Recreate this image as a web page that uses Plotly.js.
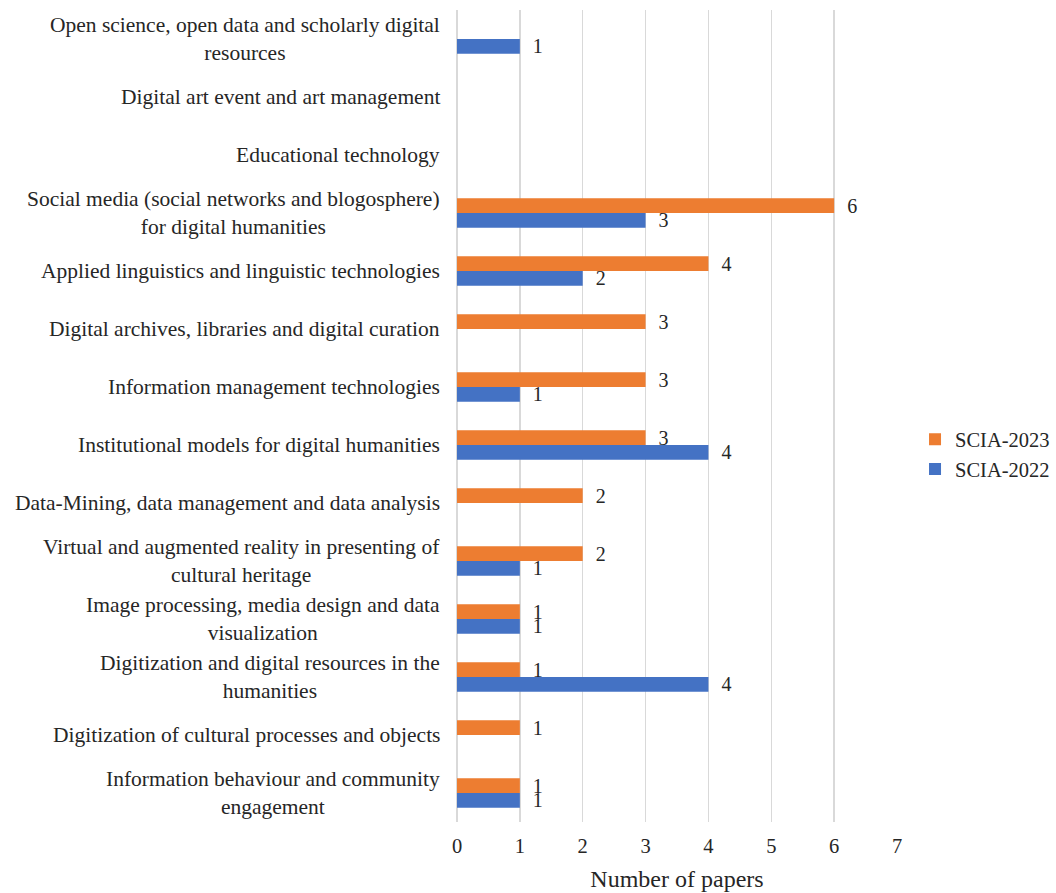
<!DOCTYPE html>
<html>
<head>
<meta charset="utf-8">
<script src="https://cdn.plot.ly/plotly-3.0.1.min.js"></script>
<style>html,body{margin:0;padding:0;background:#fff;}#chart{width:1056px;height:893px;}</style>
</head>
<body>
<div id="chart"></div>
<script>
// Categories listed bottom to top
var categories = [
  "Information behaviour and community<br>engagement",
  "Digitization of cultural processes and objects",
  "Digitization and digital resources in the<br>humanities",
  "Image processing, media design and data<br>visualization",
  "Virtual and augmented reality in presenting of<br>cultural heritage",
  "Data-Mining, data management and data analysis",
  "Institutional models for digital humanities",
  "Information management technologies",
  "Digital archives, libraries and digital curation",
  "Applied linguistics and linguistic technologies",
  "Social media (social networks and blogosphere)<br>for digital humanities",
  "Educational technology",
  "Digital art event and art management",
  "Open science, open data and scholarly digital<br>resources"
];
var scia2023 = [1, 1, 1, 1, 2, 2, 3, 3, 3, 4, 6, null, null, null];
var scia2022 = [1, null, 4, 1, 1, null, 4, 1, null, 2, 3, null, null, 1];
var xTicks = [0, 1, 2, 3, 4, 5, 6, 7];

var serif = "Liberation Serif";

var traces = [
  {
    type: "bar", orientation: "h", name: "SCIA-2022",
    y: categories, x: scia2022,
    marker: {color: "#4472C4"},
    text: scia2022.map(function(v){return v === null ? "" : "\u00a0\u00a0" + v;}),
    textposition: "outside", cliponaxis: false, constraintext: "none",
    textfont: {family: serif, size: 20, color: "#262626"},
    legendgroup: "a", hoverinfo: "x+y"
  },
  {
    type: "bar", orientation: "h", name: "SCIA-2023",
    y: categories, x: scia2023,
    marker: {color: "#ED7D31"},
    text: scia2023.map(function(v){return v === null ? "" : "\u00a0\u00a0" + v;}),
    textposition: "outside", cliponaxis: false, constraintext: "none",
    textfont: {family: serif, size: 20, color: "#262626"},
    legendgroup: "b", hoverinfo: "x+y"
  }
];

var annotations = categories.map(function(c){
  return {
    xref: "paper", yref: "y", x: -0.034, y: c,
    xanchor: "right", yanchor: "middle", align: "center",
    text: c, showarrow: false,
    font: {family: serif, size: 21.5, color: "#262626"}
  };
});

var layout = {
  width: 1056, height: 893,
  margin: {l: 457, r: 159, t: 10, b: 71},
  paper_bgcolor: "#fff", plot_bgcolor: "#fff",
  barmode: "group", bargap: 0.49, bargroupgap: 0,
  showlegend: true,
  legend: {
    xref: "container", yref: "container",
    x: 0.8665, xanchor: "left", y: 0.491, yanchor: "middle",
    traceorder: "reversed", tracegroupgap: 23,
    font: {family: serif, size: 20.5, color: "#262626"},
    itemwidth: 30
  },
  xaxis: {
    range: [0, 7], tickvals: xTicks, ticktext: xTicks.map(String),
    showgrid: true, gridcolor: "#D9D9D9", gridwidth: 1.5,
    zeroline: true, zerolinecolor: "#D9D9D9", zerolinewidth: 1.5,
    showline: false, ticks: "", ticklabelstandoff: 9,
    tickfont: {family: serif, size: 20.5, color: "#262626"},
    title: {text: "Number of papers", font: {family: serif, size: 24, color: "#262626"}, standoff: 14},
    fixedrange: true
  },
  yaxis: {
    categoryorder: "array", categoryarray: categories,
    showticklabels: false, showgrid: false, zeroline: false, showline: false, ticks: "",
    fixedrange: true
  },
  annotations: annotations
};

Plotly.newPlot("chart", traces, layout, {displayModeBar: false, staticPlot: true});
</script>
</body>
</html>
